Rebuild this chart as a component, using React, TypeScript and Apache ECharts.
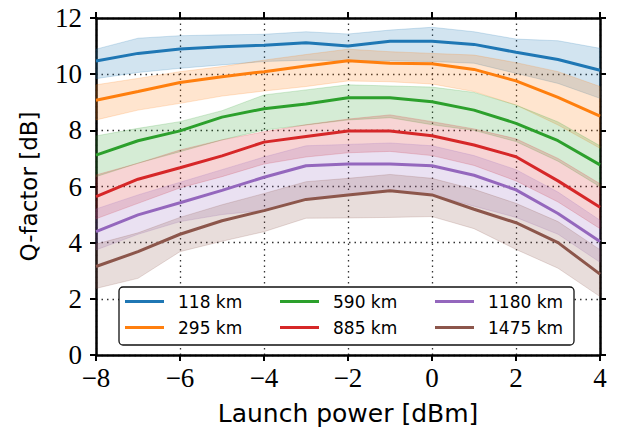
import React, { useEffect, useRef } from "react";
import * as echarts from "echarts";

const launchPower = [-8, -7, -6, -5, -4, -3, -2, -1, 0, 1, 2, 3, 4];
const seriesNames = ["118 km", "295 km", "590 km", "885 km", "1180 km", "1475 km"];
const colors = ["#1f77b4", "#ff7f0e", "#2ca02c", "#d62728", "#9467bd", "#8c564b"];

const q118 = [10.47, 10.74, 10.9, 10.98, 11.03, 11.12, 11.0, 11.17, 11.17, 11.06, 10.78, 10.52, 10.14];
const q118Hi = [10.89, 11.28, 11.37, 11.4, 11.42, 11.51, 11.43, 11.57, 11.67, 11.51, 11.25, 11.19, 10.92];
const q118Lo = [9.84, 10.06, 10.21, 10.33, 10.45, 10.5, 10.48, 10.47, 10.45, 10.39, 10.03, 9.67, 9.14];

const q295 = [9.07, 9.38, 9.7, 9.91, 10.09, 10.29, 10.48, 10.39, 10.37, 10.17, 9.76, 9.17, 8.51];
const q295Hi = [9.62, 9.85, 10.09, 10.27, 10.5, 10.7, 10.89, 10.8, 10.74, 10.68, 10.41, 10.09, 9.56];
const q295Lo = [8.37, 8.72, 8.96, 9.22, 9.4, 9.56, 9.76, 9.73, 9.65, 9.38, 8.9, 8.19, 7.36];

const q590 = [7.12, 7.63, 7.98, 8.47, 8.77, 8.94, 9.16, 9.16, 9.02, 8.72, 8.25, 7.63, 6.77];
const q590Hi = [7.8, 8.07, 8.31, 8.7, 9.26, 9.44, 9.62, 9.58, 9.54, 9.35, 8.9, 8.3, 7.45];
const q590Lo = [6.35, 6.83, 7.24, 7.66, 8.01, 8.19, 8.37, 8.45, 8.2, 8.0, 7.6, 6.9, 5.99];

const q885 = [5.64, 6.26, 6.67, 7.09, 7.58, 7.78, 7.98, 7.98, 7.81, 7.48, 7.06, 6.2, 5.26];
const q885Hi = [6.41, 6.83, 7.3, 7.66, 7.95, 8.2, 8.4, 8.55, 8.31, 8.05, 7.7, 7.0, 6.1];
const q885Lo = [4.85, 5.4, 5.95, 6.35, 6.8, 7.05, 7.2, 7.25, 7.1, 6.75, 6.2, 5.45, 4.5];

const q1180 = [4.39, 4.99, 5.42, 5.86, 6.33, 6.74, 6.8, 6.8, 6.74, 6.4, 5.88, 5.04, 4.04];
const q1180Hi = [5.2, 5.7, 6.15, 6.6, 7.05, 7.45, 7.5, 7.55, 7.45, 7.1, 6.6, 5.8, 4.8];
const q1180Lo = [3.74, 4.3, 4.75, 5.0, 5.15, 5.55, 5.7, 5.85, 5.7, 5.3, 4.9, 4.3, 3.3];

const q1475 = [3.15, 3.68, 4.3, 4.78, 5.14, 5.54, 5.7, 5.85, 5.7, 5.19, 4.71, 4.0, 2.88];
const q1475Hi = [3.95, 4.35, 4.9, 5.35, 5.75, 6.17, 6.29, 6.43, 6.29, 5.9, 5.4, 4.75, 3.75];
const q1475Lo = [2.37, 2.73, 3.68, 4.05, 4.39, 4.87, 4.88, 4.9, 4.93, 4.5, 3.76, 3.09, 2.08];

const means = [q118, q295, q590, q885, q1180, q1475];
const highs = [q118Hi, q295Hi, q590Hi, q885Hi, q1180Hi, q1475Hi];
const lows = [q118Lo, q295Lo, q590Lo, q885Lo, q1180Lo, q1475Lo];

const xTicks = { min: -8, max: 4, interval: 2 };
const yTicks = { min: 0, max: 12, interval: 2 };

const serif = "Liberation Serif";
const sans = "DejaVu Sans";

export default function App() {
  const ref = useRef<HTMLDivElement>(null);
  useEffect(() => {
    if (!ref.current) return;
    const chart = echarts.init(ref.current, null, { renderer: "svg" });
    const series: any[] = [];
    means.forEach((m, i) => {
      const lo = lows[i];
      const hi = highs[i];
      series.push({
        type: "custom",
        silent: true,
        z: 1,
        data: launchPower.map((x, j) => [x, lo[j], hi[j]]),
        encode: { x: 0, y: [1, 2] },
        renderItem: (params: any, api: any) => {
          if (params.dataIndex !== 0) return null;
          const pts: number[][] = [];
          for (let j = 0; j < launchPower.length; j++) pts.push(api.coord([launchPower[j], hi[j]]));
          for (let j = launchPower.length - 1; j >= 0; j--) pts.push(api.coord([launchPower[j], lo[j]]));
          return {
            type: "polygon",
            shape: { points: pts },
            style: { fill: colors[i], opacity: 0.2, stroke: colors[i], lineWidth: 1 },
          };
        },
      });
    });
    means.forEach((m, i) => {
      series.push({
        name: seriesNames[i],
        type: "line",
        data: launchPower.map((x, j) => [x, m[j]]),
        symbol: "none",
        lineStyle: { color: colors[i], width: 3 },
        itemStyle: { color: colors[i] },
        z: 3,
      });
    });

    const legendCols = [125, 280, 435];
    const legendRows = [301.5, 327.5];
    const legends = seriesNames.map((n, i) => ({
      data: [n],
      left: legendCols[Math.floor(i / 2)],
      top: legendRows[i % 2] - 10,
      padding: 0,
      icon: "rect",
      itemWidth: 39,
      itemHeight: 3,
      z: 6,
      textStyle: {
        fontFamily: sans,
        fontSize: 17,
        color: "#000",
        lineHeight: 20,
        padding: [0, 0, 0, 9],
      },
      selectedMode: false,
    }));

    const minusFmt = (v: number) => String(v).replace("-", "\u2212");

    chart.setOption({
      animation: false,
      backgroundColor: "#fff",
      grid: { left: 96, right: 17, top: 18, bottom: 79 },
      legend: legends,
      graphic: [
        {
          type: "rect",
          z: 5,
          shape: { x: 119, y: 287, width: 455, height: 58, r: 4 },
          style: { fill: "#fff", stroke: "#111", lineWidth: 1.3 },
        },
      ],
      xAxis: [
        {
          type: "value",
          ...xTicks,
          name: "Launch power [dBm]",
          nameLocation: "middle",
          nameGap: 46,
          nameTextStyle: { fontFamily: sans, fontSize: 25, color: "#000" },
          axisLine: { show: true, onZero: false, lineStyle: { color: "#000", width: 2.5 } },
          axisTick: { show: true, inside: false, length: 6, lineStyle: { color: "#000", width: 2 } },
          axisLabel: { fontFamily: serif, fontSize: 27, color: "#000", margin: 9, formatter: minusFmt },
          splitLine: { show: true, lineStyle: { color: "#333", width: 1.3, type: [1.5, 4] } },
        },
        {
          type: "value",
          ...xTicks,
          position: "top",
          axisLine: { show: true, onZero: false, lineStyle: { color: "#000", width: 2.5 } },
          axisTick: { show: true, inside: false, length: 6, lineStyle: { color: "#000", width: 2 } },
          axisLabel: { show: false },
          splitLine: { show: false },
        },
      ],
      yAxis: [
        {
          type: "value",
          ...yTicks,
          name: "Q-factor [dB]",
          nameLocation: "middle",
          nameGap: 56,
          nameTextStyle: { fontFamily: sans, fontSize: 23, color: "#000" },
          axisLine: { show: true, onZero: false, lineStyle: { color: "#000", width: 2.5 } },
          axisTick: { show: true, inside: false, length: 6, lineStyle: { color: "#000", width: 2 } },
          axisLabel: { fontFamily: serif, fontSize: 27, color: "#000", margin: 14 },
          splitLine: { show: true, lineStyle: { color: "#333", width: 1.3, type: [1.5, 4] } },
        },
        {
          type: "value",
          ...yTicks,
          position: "right",
          axisLine: { show: true, onZero: false, lineStyle: { color: "#000", width: 2.5 } },
          axisTick: { show: true, inside: false, length: 6, lineStyle: { color: "#000", width: 2 } },
          axisLabel: { show: false },
          splitLine: { show: false },
        },
      ],
      series,
    });
    return () => chart.dispose();
  }, []);
  return (
    <div
      ref={ref}
      style={{ position: "fixed", left: 0, top: 0, width: 617, height: 434 }}
    />
  );
}
